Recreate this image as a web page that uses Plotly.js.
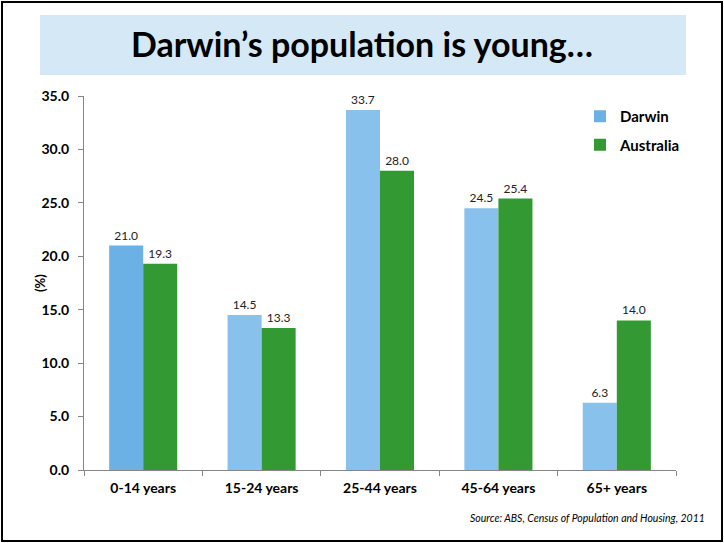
<!DOCTYPE html>
<html><head><meta charset="utf-8">
<script src="https://cdn.plot.ly/plotly-3.0.1.min.js"></script>
<style>
html,body{margin:0;padding:0;background:#fff;}
#wrap{position:relative;width:724px;height:543px;}
#chart{position:absolute;left:0;top:0;width:724px;height:543px;}
#frame{position:absolute;left:1px;top:1px;width:718px;height:537px;border:2px solid #000;pointer-events:none;}
</style></head><body>
<div id="wrap"><div id="chart"></div><div id="frame"></div></div>
<script>
const categories = ['0-14 years','15-24 years','25-44 years','45-64 years','65+ years'];
const darwin = [21.0, 14.5, 33.7, 24.5, 6.3];
const australia = [19.3, 13.3, 28.0, 25.4, 14.0];
const yTicks = [0,5,10,15,20,25,30,35];

const fontFam = 'Lato, "Open Sans", sans-serif';
const darwinColors = darwin.map((v,i)=> i===0 ? '#6cb1e5' : '#88c1ec');

const traces = [
  {type:'bar', name:'Darwin', x:categories, y:darwin, marker:{color:darwinColors},
   text:darwin.map(v=>v.toFixed(1)), textposition:'outside', cliponaxis:false,
   textfont:{family:fontFam,size:12,color:'#222'}, legendgroup:'a', hoverinfo:'none'},
  {type:'bar', name:'Australia', x:categories, y:australia, marker:{color:'#339933'},
   text:australia.map(v=>v.toFixed(1)), textposition:'outside', cliponaxis:false,
   textfont:{family:fontFam,size:12,color:'#222'}, legendgroup:'b', hoverinfo:'none'}
];

const L=84, R=48, T=96, B=73, W=724, H=543;
const pw=W-L-R, ph=H-T-B;
const px = x => (x-L)/pw;
const py = y => (H-B-y)/ph;

const layout = {
  width:W, height:H,
  margin:{l:L,r:R,t:T,b:B,pad:0},
  paper_bgcolor:'#fff', plot_bgcolor:'#fff',
  barmode:'group', bargap:0.425, bargroupgap:0,
  showlegend:true,
  legend:{x:px(580), y:py(100), xanchor:'left', yanchor:'top', bgcolor:'rgba(0,0,0,0)',
    font:{family:fontFam,size:15,color:'#000',weight:'bold'}, tracegroupgap:6, itemwidth:30},
  title:{text:'<b>Darwin’s population is young…</b>', x:0.5, xref:'container', xanchor:'center',
    y:1-45/H, yref:'container', yanchor:'middle',
    font:{family:fontFam,size:34,color:'#000'}},
  xaxis:{type:'category', showline:true, linecolor:'#868686', linewidth:1,
    ticks:'outside', ticklen:5, tickcolor:'#868686', tickson:'boundaries', ticklabelstandoff:5,
    tickfont:{family:fontFam,size:14,color:'#000',weight:'bold'}, showgrid:false, zeroline:false, fixedrange:true},
  yaxis:{range:[0,35], tickvals:yTicks, ticktext:yTicks.map(v=>v.toFixed(1)),
    showline:true, linecolor:'#868686', linewidth:1, ticks:'outside', ticklen:5, tickcolor:'#868686',
    ticklabelstandoff:6,
    tickfont:{family:fontFam,size:14,color:'#000',weight:'bold'}, showgrid:false, zeroline:false,
    fixedrange:true},
  shapes:[
    {type:'rect', xref:'paper', yref:'paper', x0:px(40), x1:px(686), y0:py(75), y1:py(15),
     fillcolor:'#d5e8f5', line:{width:0}, layer:'below'}
  ],
  annotations:[
    {text:'<b>(%)</b>', xref:'paper', yref:'paper', x:px(40), y:py(283), textangle:-90,
     xanchor:'center', yanchor:'middle', showarrow:false, font:{family:fontFam,size:13,color:'#000'}},
    {text:'<i>Source: ABS, Census of Population and Housing, 2011</i>', xref:'paper', yref:'paper',
     x:px(707), y:py(518), xanchor:'right', yanchor:'middle', showarrow:false,
     font:{family:fontFam,size:10.5,color:'#000'}}
  ]
};
Plotly.newPlot('chart', traces, layout, {displayModeBar:false, staticPlot:true});
</script></body></html>
